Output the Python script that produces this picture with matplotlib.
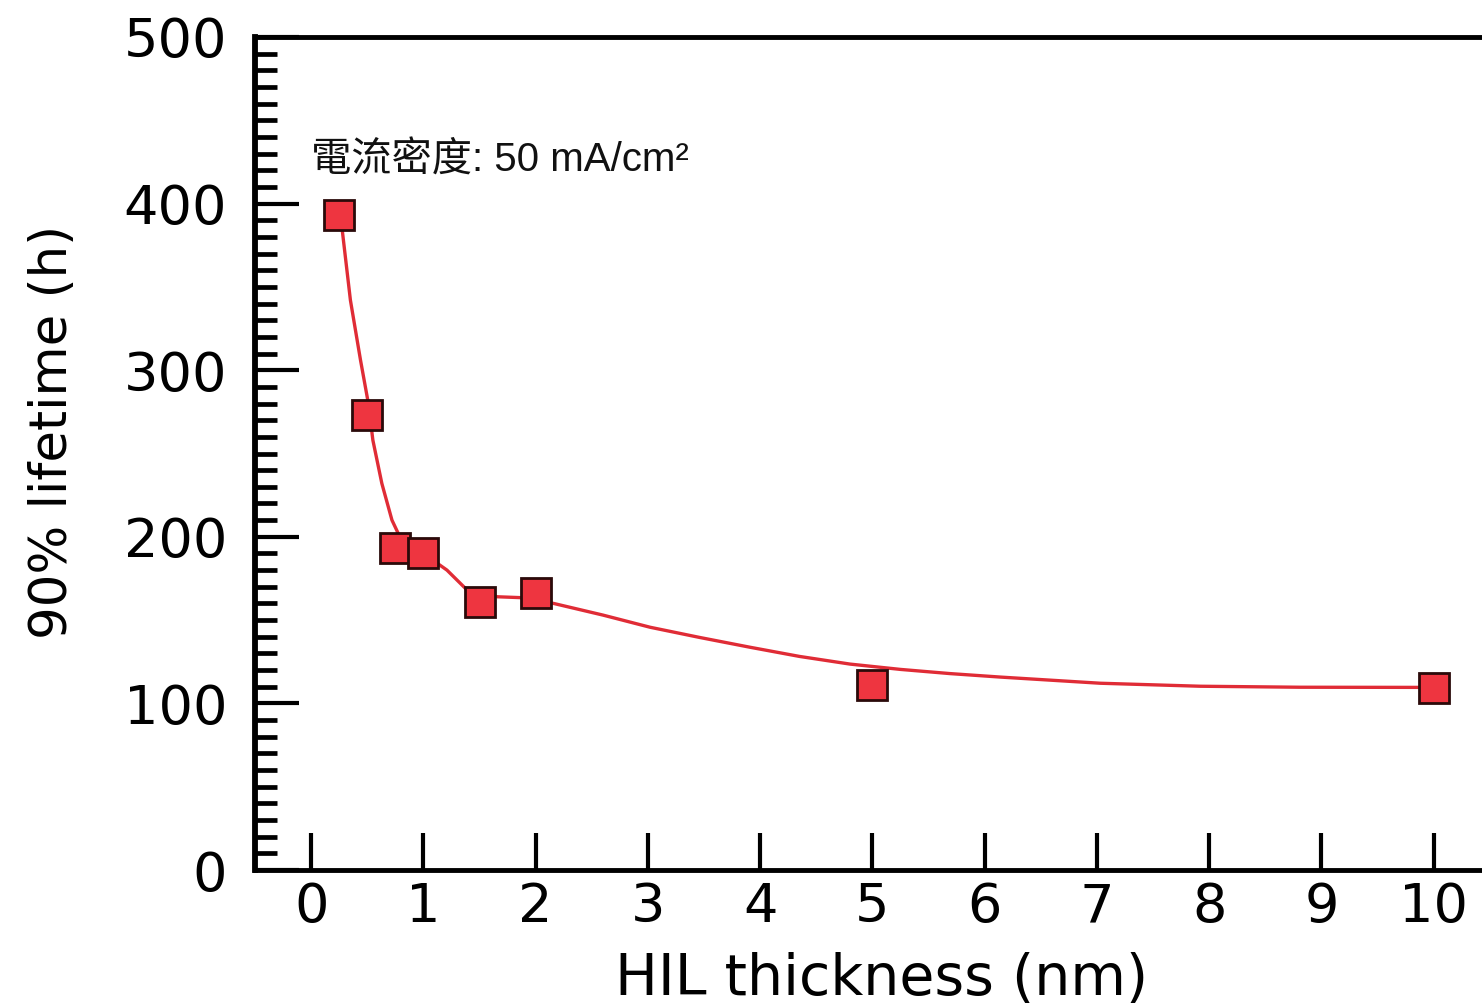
import numpy as np
import matplotlib.pyplot as plt

# measured points
hil_nm = [0.25, 0.5, 0.75, 1.0, 1.5, 2.0, 5.0, 10.0]
lifetime_h = [393, 273, 193, 190, 161, 166, 111, 109]

# fitted guide curve
curve_x = [0.26, 0.35, 0.44, 0.51, 0.55, 0.63, 0.72, 0.79, 0.88, 1.0, 1.21,
           1.39, 1.66, 1.86, 2.16, 2.6, 3.02, 3.46, 3.91, 4.35, 4.8, 5.25,
           5.69, 6.14, 7.03, 7.92, 8.81, 10.0]
curve_y = [394, 342, 306, 280, 258, 232, 210, 200, 195, 190, 180,
           168, 164, 163.5, 160, 153, 145.7, 139.6, 133.7, 128.2, 123.6, 120.4,
           117.9, 115.8, 112.1, 110.3, 109.7, 109.6]

x_ticks = list(range(0, 11))
y_ticks = [0, 100, 200, 300, 400, 500]

plt.rcParams['font.family'] = ['DejaVu Sans']

fig = plt.figure(figsize=(14.82, 10.07), dpi=100)
ax = fig.add_axes([255 / 1482, 1 - 870 / 1007, 1227 / 1482, 833 / 1007])

ax.plot(curve_x, curve_y, color='#e02c36', lw=2.4, zorder=2,
        solid_joinstyle='round')
ax.plot(hil_nm, lifetime_h, ls='none', marker='s', ms=21, mfc='#ee3540',
        mec='#2a0a0a', mew=2.0, zorder=3)

ax.set_xlim(-0.5, 10.43)
ax.set_ylim(0, 500)
ax.set_xticks(x_ticks)
ax.set_yticks(y_ticks)
ax.set_yticks(np.arange(0, 501, 10), minor=True)

for side in ['left', 'bottom', 'top']:
    ax.spines[side].set_linewidth(3.5)
ax.spines['left'].set_linewidth(4.2)
ax.spines['right'].set_visible(False)

ax.tick_params(axis='y', which='major', direction='in', length=32, width=3,
               pad=20, labelsize=39)
ax.tick_params(axis='y', which='minor', direction='in', length=16, width=3.4)
ax.tick_params(axis='x', which='major', direction='in', length=27, width=3,
               pad=8, labelsize=39)
ax.tick_params(axis='x', which='minor', bottom=False)

ax.set_xlabel('HIL thickness (nm)', fontsize=41)
ax.set_ylabel('90% lifetime (h)', fontsize=37)
ax.xaxis.set_label_coords(0.511, -0.098)
ax.yaxis.set_label_coords(-0.144, 0.526)

ax.text(0.0, 419, '電流密度: 50 mA/cm²', fontsize=29, color='#111111',
        family=['Liberation Sans', 'Noto Sans CJK TC'], ha='left', va='baseline')

fig.savefig('out.png', dpi=100)
